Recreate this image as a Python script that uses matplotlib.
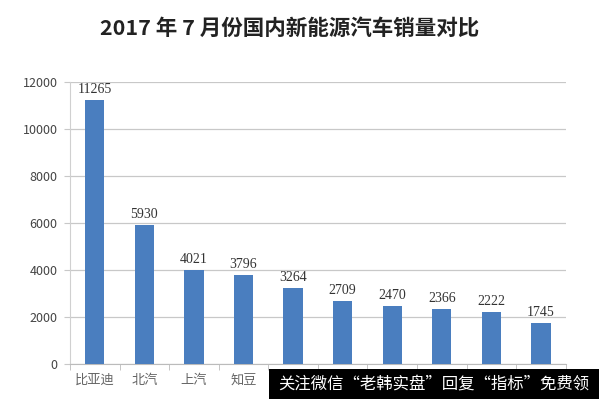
import matplotlib
matplotlib.use("Agg")
import matplotlib.pyplot as plt
import numpy as np
from matplotlib.patches import Rectangle

plt.rcParams['font.family'] = ['Noto Sans CJK SC', 'DejaVu Sans']

categories = ['比亚迪', '北汽', '上汽', '知豆', '江淮', '众泰', '吉利', '奇瑞', '江铃', '长安']
sales = [11265, 5930, 4021, 3796, 3264, 2709, 2470, 2366, 2222, 1745]
yticks = [0, 2000, 4000, 6000, 8000, 10000, 12000]
title = '2017 年 7 月份国内新能源汽车销量对比'
watermark = '关注微信“老韩实盘”回复“指标”免费领'
n_visible_labels = 4  # the rest are covered by the watermark band

fig = plt.figure(figsize=(5.99, 3.99), dpi=100)
ax = fig.add_axes([70/599, 34.7/399, 495.7/599, 282/399])

x = np.arange(len(categories))
ax.bar(x, sales, width=0.39, color='#4a7ebf', zorder=3)
for xi, v in zip(x, sales):
    ax.text(xi, v + 170, str(v), ha='center', va='bottom', fontsize=10,
            family='Liberation Serif', color='#333333', zorder=4)

ax.set_xlim(-0.5, len(categories) - 0.5)
ax.set_ylim(0, 12000)
ax.set_yticks(yticks)
ax.set_yticklabels([str(t) for t in yticks], fontsize=9, color='#444444')
ax.yaxis.grid(True, color='#c8c8c8', linewidth=0.9, zorder=0)
ax.tick_params(axis='y', length=4, color='#c8c8c8', pad=5)

ax.set_xticks(x)
labels = ax.set_xticklabels(categories, fontsize=9.5, color='#666666')
for lab in labels[n_visible_labels:]:
    lab.set_visible(False)
ax.set_xticks(np.arange(-0.5, len(categories)), minor=True)
ax.tick_params(axis='x', which='major', length=0, pad=7)
ax.tick_params(axis='x', which='minor', length=4, color='#bbbbbb')

for s in ['top', 'right']:
    ax.spines[s].set_visible(False)
ax.spines['left'].set_color('#d0d0d0')
ax.spines['bottom'].set_color('#bbbbbb')

fig.text(290/599, 1 - 28/399, title, ha='center', va='center',
         fontsize=15.5, fontweight='bold', color='#222222')

fig.patches.append(Rectangle((269/599, 0), 1 - 269/599, 1 - 368.5/399,
                             transform=fig.transFigure, facecolor='black',
                             edgecolor='none', zorder=10))
fig.text(434/599, 1 - 384/399, watermark, ha='center', va='center',
         fontsize=11.8, color='white', zorder=11)

fig.savefig('out.png', dpi=100, facecolor='white')
